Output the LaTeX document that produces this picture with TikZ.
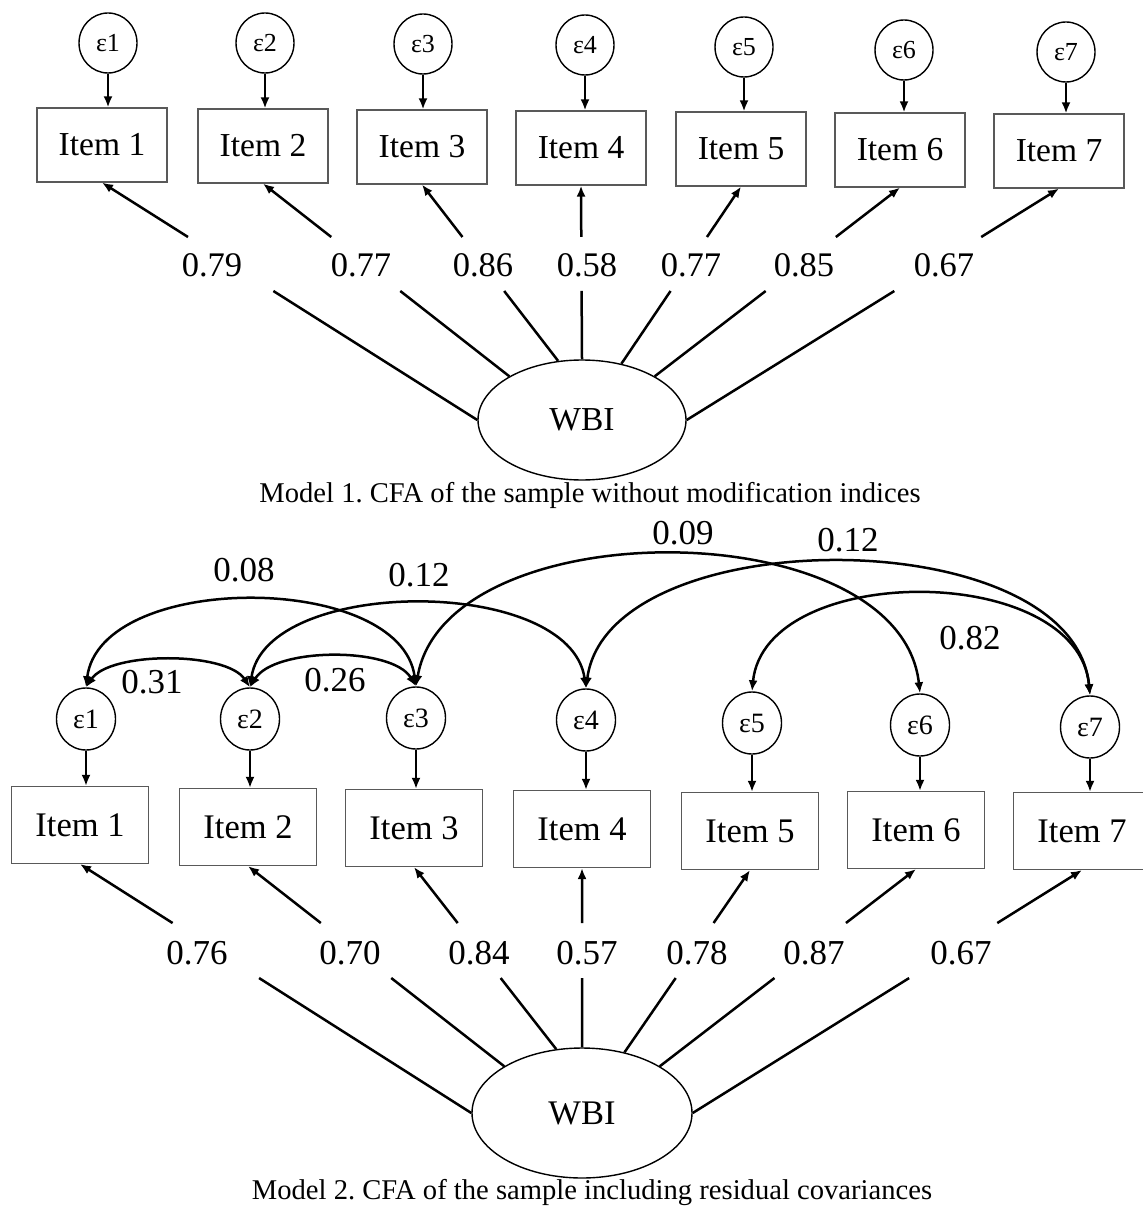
\documentclass[tikz,border=0pt]{standalone}
\usepackage{fontspec}
\setmainfont{Liberation Serif}
\usetikzlibrary{arrows.meta}
\usetikzlibrary{shapes.geometric}

\tikzset{
  err/.style={draw,ellipse,inner sep=0pt,line width=0.7pt,
    minimum width=29pt,minimum height=30pt,font=\fontsize{13}{15}\selectfont},
  item/.style={draw=black!65,line width=0.6pt,inner sep=0pt,
    minimum width=65pt,minimum height=37pt,font=\fontsize{16.75}{20}\selectfont},
  lat/.style={draw,ellipse,line width=0.7pt,inner sep=0pt,
    minimum width=104pt,minimum height=60pt,font=\fontsize{16.75}{20}\selectfont},
  lab/.style={inner sep=0pt,font=\fontsize{17.25}{20}\selectfont},
  capt/.style={inner sep=0pt,font=\fontsize{14.3}{17}\selectfont},
  regarrow/.style={-{Latex[length=5.5pt,width=4.5pt]},line width=1.25pt},
  loadline/.style={line width=1.25pt},
  covarc/.style={{Latex[length=5.5pt,width=4.5pt]}-{Latex[length=5.5pt,width=4.5pt]},line width=1.25pt}
}

\begin{document}
\frenchspacing
\begin{tikzpicture}[x=0.5pt,y=-0.5pt]
  \useasboundingbox (0,0) rectangle (1142,1208);
  %% Model 1
  \begin{scope}[name prefix=m1-]
    \coordinate (gt1) at (0,237); \coordinate (gt2) at (1,237);
    \coordinate (gb1) at (0,291); \coordinate (gb2) at (1,291);
    \foreach \i/\ex/\ey/\ix/\iy in {1/108/43/102/145,2/265/43/263/146,
        3/423/44/422/147,4/585/45/581/148,5/744/47/741/149,
        6/904/50/900/150,7/1066/52/1059/151}{
      \node[err] (E\i) at (\ex,\ey) {ε\i};
      \node[item] (I\i) at (\ix,\iy) {Item \i};
      \draw[regarrow] (E\i.south) -- (E\i.south |- I\i.north);
    }
    \node[lat] (W) at (582,420) {WBI};
    \foreach \i/\a/\x/\v in {1/180/212/0.79,2/149/361/0.77,3/112/483/0.86,
        4/90/587/0.58,5/55/691/0.77,6/31/804/0.85,7/0/944/0.67}{
      \node[lab] (L\i) at (\x,265) {\v};
      \draw[loadline] (W.\a) -- (intersection of W.\a--I\i.south and gb1--gb2);
      \draw[regarrow] (intersection of W.\a--I\i.south and gt1--gt2) -- (I\i.south);
    }
    \node[capt] (cap) at (590,495) {Model 1. CFA of the sample without modification indices};
  \end{scope}
  %% Model 2
  \begin{scope}[name prefix=m2-,
      err/.append style={minimum width=29.5pt,minimum height=31pt,font=\fontsize{14}{16}\selectfont},
      item/.append style={minimum width=68.5pt,minimum height=38.5pt,font=\fontsize{17.25}{20}\selectfont},
      lat/.append style={minimum width=110pt,minimum height=65pt,font=\fontsize{17.25}{20}\selectfont},
      lab/.append style={font=\fontsize{17.5}{20}\selectfont}]
    \coordinate (gt1) at (0,923); \coordinate (gt2) at (1,923);
    \coordinate (gb1) at (0,978); \coordinate (gb2) at (1,978);
    \foreach \i/\ex/\ey/\ix/\iy in {1/86/719/80/825,2/250/719/248/827,
        3/416/718/414/828,4/586/720/582/829,5/752/723/750/831,
        6/920/725/916/830,7/1090/727/1082/831}{
      \node[err] (E\i) at (\ex,\ey) {ε\i};
      \node[item] (I\i) at (\ix,\iy) {Item \i};
      \draw[regarrow] (E\i.south) -- (E\i.south |- I\i.north);
    }
    \node[lat] (W) at (582,1113) {WBI};
    \foreach \i/\a/\x/\v in {1/180/197/0.76,2/149/350/0.70,3/112/479/0.84,
        4/90/587/0.57,5/55/697/0.78,6/31/814/0.87,7/0/961/0.67}{
      \node[lab] (L\i) at (\x,953) {\v};
      \draw[loadline] (W.\a) -- (intersection of W.\a--I\i.south and gb1--gb2);
      \draw[regarrow] (intersection of W.\a--I\i.south and gt1--gt2) -- (I\i.south);
    }
    % residual covariances
    \draw[covarc] (E1.north) .. controls +(24,-36) and +(-24,-36) .. (E2.north);
    \draw[covarc] (E2.north) .. controls +(24,-40) and +(-24,-40) .. (E3.north);
    \draw[covarc] (E1.north) .. controls +(14,-116) and +(-16,-115) .. (E3.north);
    \draw[covarc] (E2.north) .. controls +(16,-111) and +(-16,-113) .. (E4.north);
    \draw[covarc] (E3.north) .. controls +(30,-177) and +(-20,-183) .. (E6.north);
    \draw[covarc] (E4.north) .. controls +(22,-169) and +(-17,-176) .. (E7.north);
    \draw[covarc] (E5.north) .. controls +(13,-130) and +(-12,-134) .. (E7.north);
    \node[lab] (c12) at (152,682) {0.31};
    \node[lab] (c23) at (335,680) {0.26};
    \node[lab] (c13) at (244,570) {0.08};
    \node[lab] (c24) at (419,575) {0.12};
    \node[lab] (c36) at (683,533) {0.09};
    \node[lab] (c47) at (848,540) {0.12};
    \node[lab] (c57) at (970,638) {0.82};
    \node[capt] (cap) at (592,1193) {Model 2. CFA of the sample including residual covariances};
  \end{scope}
\end{tikzpicture}
\end{document}
